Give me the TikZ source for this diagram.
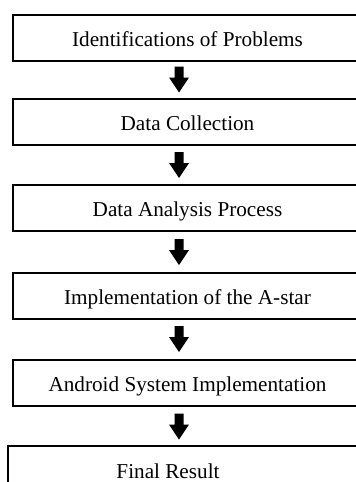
\documentclass[tikz,border=0pt]{standalone}
\usepackage{fontspec}
\setmainfont{Liberation Serif}
\newcommand\myblockarrow[1]{\fill[black] (#1) +(-4.5,13) -- +(4.5,13) -- +(4.5,2) -- +(10,2) -- +(0,-13) -- +(-10,2) -- +(-4.5,2) -- cycle;}
\begin{document}
\begin{tikzpicture}[x=1pt,y=1pt,
  stepbox/.style={draw, line width=2pt, minimum width=349pt, minimum height=45.5pt,
    inner sep=0pt, outer sep=0pt, anchor=north west,
    font=\fontsize{21.2}{25}\selectfont, text height=18pt, text depth=0pt},
  steptext/.style={inner sep=0pt, font=\fontsize{21.2}{25}\selectfont, text height=18pt, text depth=0pt}]
\useasboundingbox (0,0) rectangle (356,-482);
\node[stepbox] (b1) at (13,-15) {Identifications of Problems};
\node[stepbox] (b2) at (13,-99) {Data Collection};
\node[stepbox] (b3) at (13,-185) {Data Analysis Process};
\node[stepbox] (b4) at (13,-273) {Implementation of the A-star};
\node[stepbox] (b5) at (13,-360) {Android System Implementation};
\node[stepbox, minimum width=370pt] (b6) at (8,-446) {};
\node[steptext] (t6) at (168,-469) {Final Result};
\coordinate (a1) at (179,-79.5);
\coordinate (a2) at (179,-165);
\coordinate (a3) at (179,-252);
\coordinate (a4) at (179,-339);
\coordinate (a5) at (179,-426.5);
\myblockarrow{a1}
\myblockarrow{a2}
\myblockarrow{a3}
\myblockarrow{a4}
\myblockarrow{a5}
\end{tikzpicture}
\end{document}
